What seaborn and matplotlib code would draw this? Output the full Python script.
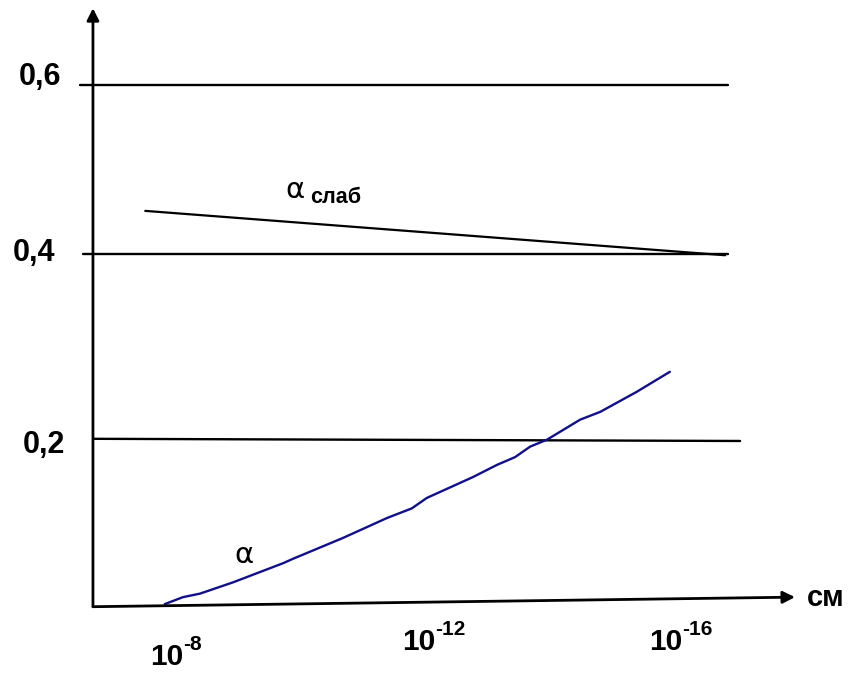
import numpy as np
import pandas as pd
import matplotlib
matplotlib.use('Agg')
import matplotlib.pyplot as plt
import seaborn as sns

# x: exponent n of the length 10^-n cm, y: coupling value
# curve alpha (strong coupling)
alpha_n = [7.92, 8.20, 8.46, 8.97, 9.74, 9.89, 10.66, 11.34, 11.72, 11.95,
           12.66, 13.03, 13.31, 13.54, 13.80, 14.31, 14.62, 15.18, 15.49, 15.69]
alpha_v = [0.001, 0.009, 0.013, 0.026, 0.048, 0.053, 0.077, 0.100, 0.111, 0.123,
           0.147, 0.161, 0.170, 0.182, 0.190, 0.213, 0.222, 0.245, 0.259, 0.268]

# weak coupling line (start, end)
weak_n = [7.62, 16.54]
weak_v = [0.453, 0.402]

# horizontal reference lines: level labels, start/end x, start/end y
level_labels = ['0,6', '0,4', '0,2']
level_x0 = [6.62, 6.66, 6.83]
level_x1 = [16.58, 16.58, 16.77]
level_y0 = [0.598, 0.403, 0.191]
level_y1 = [0.598, 0.403, 0.1885]
level_label_x = [6.00, 5.91, 6.06]
level_label_y = [0.607, 0.405, 0.184]

# x tick labels 10^-8, 10^-12, 10^-16
tick_exps = ['-8', '-12', '-16']
tick_x = [8.20, 12.08, 15.88]
tick_y = [-0.069, -0.052, -0.052]

# axes (hand drawn, slightly tilted x axis)
yaxis_n = 6.815
yaxis_v = [-0.002, 0.686]
xaxis_n = [6.815, 17.615]
xaxis_v = [-0.002, 0.009]

sns.set_theme(style='white')
plt.rcParams['font.family'] = ['Liberation Sans', 'DejaVu Sans']
plt.rcParams['text.color'] = 'black'

fig = plt.figure(figsize=(8.49, 6.73), dpi=100)
ax = fig.add_axes([0, 0, 1, 1])
ax.set_xlim(5.385, 18.446)
ax.set_ylim(-0.0782, 0.6954)
ax.axis('off')

# reference levels
for x0, x1, y0, y1 in zip(level_x0, level_x1, level_y0, level_y1):
    sns.lineplot(x=[x0, x1], y=[y0, y1], ax=ax, color='black', lw=1.7,
                 sort=False, estimator=None)
for lab, lx, ly in zip(level_labels, level_label_x, level_label_y):
    ax.text(lx, ly, lab, fontsize=22, fontweight='bold', ha='center', va='center')

# weak coupling
sns.lineplot(x=weak_n, y=weak_v, ax=ax, color='black', lw=1.6, sort=False, estimator=None)
ax.text(9.92, 0.468, 'α', fontsize=21, family='DejaVu Sans', ha='center', va='baseline')
ax.text(10.15, 0.462, 'слаб', fontsize=15.5, fontweight='bold', ha='left', va='baseline')

# strong coupling
df = pd.DataFrame({'n': alpha_n, 'v': alpha_v})
sns.lineplot(data=df, x='n', y='v', ax=ax, color='#10108a', lw=1.7, sort=False, estimator=None)
ax.text(9.14, 0.0575, 'α', fontsize=21, family='DejaVu Sans', ha='center', va='center')

# axes with arrows
arrow = dict(arrowstyle='-|>', color='black', lw=2.0, mutation_scale=18,
             shrinkA=0, shrinkB=0)
ax.annotate('', xy=(yaxis_n, yaxis_v[1]), xytext=(yaxis_n, yaxis_v[0]), arrowprops=arrow)
ax.annotate('', xy=(xaxis_n[1], xaxis_v[1]), xytext=(xaxis_n[0], xaxis_v[0]), arrowprops=arrow)
ax.text(18.08, 0.008, 'см', fontsize=21, fontweight='bold', ha='center', va='center')

# tick labels
for e, tx, ty in zip(tick_exps, tick_x, tick_y):
    ax.text(tx, ty, '10', fontsize=21.5, fontweight='bold', ha='right', va='baseline')
    ax.annotate(e, xy=(tx, ty), xytext=(0, 11), textcoords='offset points',
                fontsize=15, fontweight='bold', ha='left', va='baseline')

fig.savefig('out.png', dpi=100)
